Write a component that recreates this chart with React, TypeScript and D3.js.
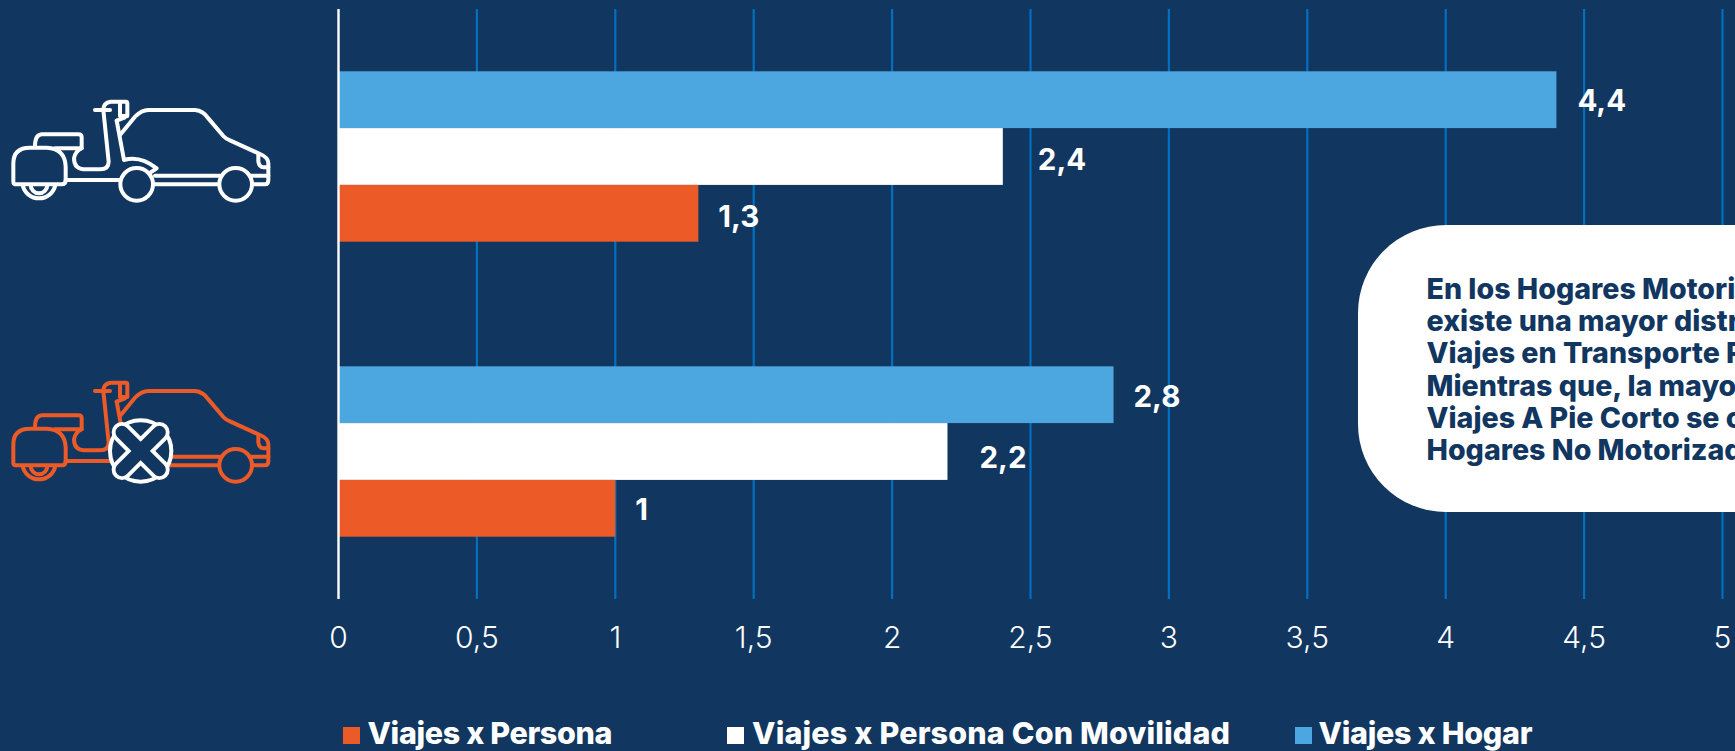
import React from "react";
import * as d3 from "d3";

const W = 1735;
const H = 751;

const categories = ["Hogares Motorizados", "Hogares No Motorizados"];
const seriesNames = ["Viajes x Hogar", "Viajes x Persona Con Movilidad", "Viajes x Persona"];
const viajesHogar = [4.4, 2.8];
const viajesPersonaMovilidad = [2.4, 2.2];
const viajesPersona = [1.3, 1];
const tickValues = [0, 0.5, 1, 1.5, 2, 2.5, 3, 3.5, 4, 4.5, 5];
const calloutLines = [
  "En los Hogares Motori",
  "existe una mayor distr",
  "Viajes en Transporte P",
  "Mientras que, la mayo",
  "Viajes A Pie Corto se c",
  "Hogares No Motorizad",
];

const NAVY = "#11365F";
const BLUE = "#4CA6DF";
const ORANGE = "#EC5B27";
const GRID = "#0070BF";
const colors = [BLUE, "#FFFFFF", ORANGE];

const seriesValues = [viajesHogar, viajesPersonaMovilidad, viajesPersona];
const fmt = (v: number) => String(v).replace(".", ",");

const x = d3.scaleLinear().domain([0, 5]).range([338.5, 1722.5]);
const yOuter = d3.scaleBand<string>().domain(categories).range([9, 599]);
const yInner = d3
  .scaleBand<string>()
  .domain(seriesNames)
  .range([0, yOuter.bandwidth()])
  .paddingInner(0)
  .paddingOuter(1.097);

// label nudges, [series][category]
const labelDx = [
  [21, 20],
  [35, 32],
  [20, 20],
];
const labelDy = [
  [-17.5, -16],
  [-14.5, -11.5],
  [-15, -17],
];

const legend = [
  { name: "Viajes x Persona", color: ORANGE, sx: 343, tx: 367.5, len: 245 },
  { name: "Viajes x Persona Con Movilidad", color: "#FFFFFF", sx: 727, tx: 752, len: 478 },
  { name: "Viajes x Hogar", color: BLUE, sx: 1295, tx: 1318.5, len: 214 },
];

function Vehicle({ color, tx, ty, crossed }: { color: string; tx: number; ty: number; crossed: boolean }) {
  const cx = 422;
  const cy = 270;
  const arms = `M${cx - 56} ${cy - 56} L${cx + 56} ${cy + 56} M${cx + 56} ${cy - 56} L${cx - 56} ${cy + 56}`;
  return (
    <g
      transform={`translate(${tx},${ty}) scale(${1 / 3})`}
      fill="none"
      stroke={color}
      strokeWidth={12}
      strokeLinecap="round"
      strokeLinejoin="round"
    >
      {/* car body */}
      <path d="M360 165 L405 110 Q425 90 445 90 L585 90 Q610 92 625 115 L670 168 Q678 177 690 181 L780 222 Q805 232 805 250 L805 300 Q805 313 795 313 L750 313" />
      <path d="M465 287 L660 287 M465 313 L660 313 M750 287 L805 287" />
      <path d="M775 222 L775 245 Q778 262 790 262 L805 262" />
      {/* scooter */}
      <path d="M285 90 L330 90" />
      <path d="M310 90 Q310 68 332 65 L378 65 Q382 65 382 70 L382 108 L360 108 L360 66" />
      <path d="M310 90 L326 245 Q326 268 300 268 L250 268 Q222 265 222 235 Q225 215 245 205 L245 172 Q245 163 235 163 L125 163 Q105 165 105 198" />
      <path d="M165 205 L245 205" />
      <path d="M350 122 L372 240 Q420 225 470 265 L452 277" />
      <path d="M350 122 L375 112" />
      {/* top case */}
      <path d="M40 305 L40 250 Q40 203 90 203 L140 203 Q195 205 197 260 L197 300 Q197 313 185 313 L50 313 Q40 313 40 305 Z" />
      <path d="M197 300 L360 300" />
      {/* rear wheel */}
      <path d="M68 315 A50 50 0 0 0 166 315" />
      <path d="M92 315 A25 25 0 0 0 142 315" />
      {/* wheels */}
      {!crossed && <circle cx={410} cy={313} r={49} fill={NAVY} />}
      <circle cx={707} cy={313} r={49} fill={NAVY} />
      {crossed && (
        <g>
          <circle cx={cx} cy={cy} r={92} fill={NAVY} stroke="#fff" strokeWidth={12} />
          <path d={arms} stroke="#fff" strokeWidth={62} />
          <path d={arms} stroke={NAVY} strokeWidth={39} />
        </g>
      )}
    </g>
  );
}

export default function App() {
  return (
    <svg
      width={W}
      height={H}
      viewBox={`0 0 ${W} ${H}`}
      style={{ position: "fixed", left: 0, top: 0, display: "block", background: NAVY, fontFamily: "Inter, sans-serif" }}
    >
      <rect width={W} height={H} fill={NAVY} />

      {/* gridlines */}
      {tickValues.slice(1).map((t) => (
        <line key={t} x1={x(t)} x2={x(t)} y1={9} y2={599} stroke={GRID} strokeWidth={2.2} />
      ))}

      {/* bars */}
      {seriesNames.map((s, si) =>
        categories.map((c, ci) => {
          const y0 = (yOuter(c) as number) + (yInner(s) as number);
          return (
            <rect
              key={s + c}
              x={x(0)}
              y={y0}
              width={x(seriesValues[si][ci]) - x(0)}
              height={yInner.bandwidth()}
              fill={colors[si]}
            />
          );
        })
      )}

      {/* axis line */}
      <line x1={x(0)} x2={x(0)} y1={9} y2={599} stroke="#fff" strokeWidth={2.4} />

      {/* value labels */}
      {seriesNames.map((s, si) =>
        categories.map((c, ci) => {
          const y0 = (yOuter(c) as number) + (yInner(s) as number) + yInner.bandwidth();
          return (
            <text
              key={s + c}
              x={x(seriesValues[si][ci]) + labelDx[si][ci]}
              y={y0 + labelDy[si][ci]}
              fill="#fff"
              fontSize={29.5}
              fontWeight={700}
            >
              {fmt(seriesValues[si][ci])}
            </text>
          );
        })
      )}

      {/* tick labels */}
      {tickValues.map((t) => (
        <text key={t} x={x(t)} y={648} fill="#fff" fontSize={30} fontWeight={300} textAnchor="middle">
          {fmt(t)}
        </text>
      ))}

      {/* callout */}
      <rect x={1358} y={225} width={500} height={287} rx={88} ry={88} fill="#fff" />
      {calloutLines.map((l, i) => (
        <text key={l} x={1426.5} y={299 + i * 32.2} fill={NAVY} fontSize={28.6} fontWeight={800}>
          {l}
        </text>
      ))}

      {/* icons */}
      <Vehicle color="#fff" tx={0} ty={80} crossed={false} />
      <Vehicle color={ORANGE} tx={0} ty={361} crossed={true} />

      {/* legend */}
      {legend.map((d) => (
        <g key={d.name}>
          <rect x={d.sx} y={727} width={17} height={17} fill={d.color} />
          <text
            x={d.tx}
            y={743.5}
            fill="#fff"
            fontSize={30.5}
            fontWeight={800}
            textLength={d.len}
            lengthAdjust="spacing"
          >
            {d.name}
          </text>
        </g>
      ))}
    </svg>
  );
}
